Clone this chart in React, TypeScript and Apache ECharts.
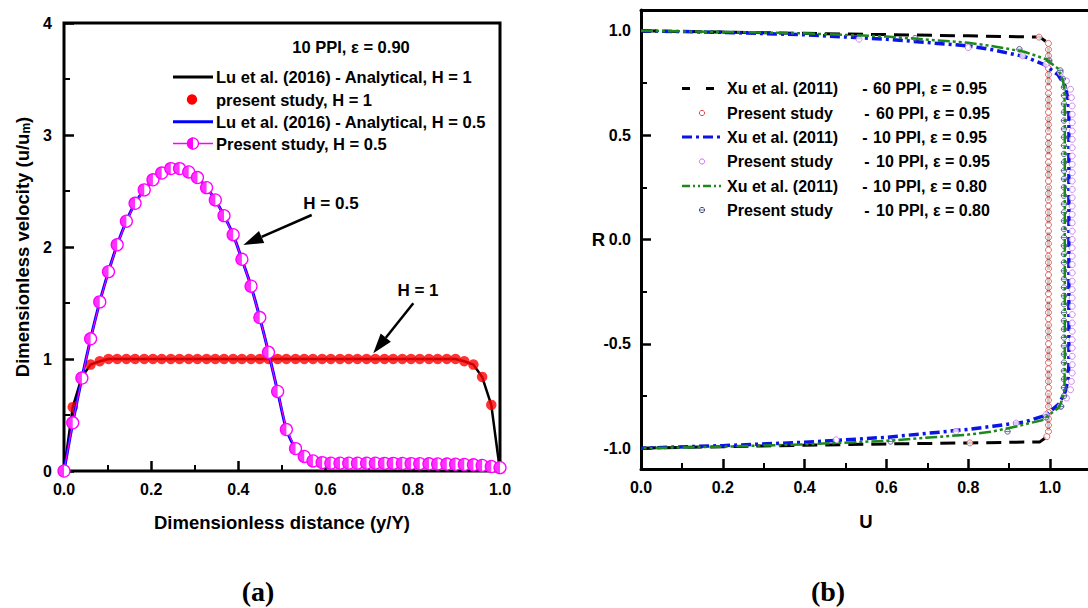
import React, { useEffect, useRef } from "react";
import * as echarts from "echarts";

const FONT = "'Liberation Sans', Arial, Helvetica, sans-serif";
const SERIF = "'Liberation Serif', 'Times New Roman', serif";

// ---------------- Panel (a) ----------------
const distanceA = [0, 0.020, 0.041, 0.061, 0.082, 0.102, 0.122, 0.143, 0.163, 0.184, 0.204, 0.224, 0.245, 0.265, 0.286, 0.306, 0.327, 0.347, 0.367, 0.388, 0.408, 0.429, 0.449, 0.469, 0.490, 0.510, 0.531, 0.551, 0.571, 0.592, 0.612, 0.633, 0.653, 0.673, 0.694, 0.714, 0.735, 0.755, 0.776, 0.796, 0.816, 0.837, 0.857, 0.878, 0.898, 0.918, 0.939, 0.959, 0.980, 1.000];

const analyticalH1 = [0, 0.57, 0.84, 0.95, 0.98,
  1.0, 1.0, 1.0, 1.0, 1.0, 1.0, 1.0, 1.0, 1.0, 1.0,
  1.0, 1.0, 1.0, 1.0, 1.0, 1.0, 1.0, 1.0, 1.0, 1.0,
  1.0, 1.0, 1.0, 1.0, 1.0, 1.0, 1.0, 1.0, 1.0, 1.0,
  1.0, 1.0, 1.0, 1.0, 1.0, 1.0, 1.0, 1.0, 1.0, 1.0,
  0.98, 0.95, 0.84, 0.59, 0];

// present study H = 1 sits on distanceA[1..48]
const presentH1 = [0.57, 0.84, 0.95, 0.98,
  1.0, 1.0, 1.0, 1.0, 1.0, 1.0, 1.0, 1.0, 1.0, 1.0,
  1.0, 1.0, 1.0, 1.0, 1.0, 1.0, 1.0, 1.0, 1.0, 1.0,
  1.0, 1.0, 1.0, 1.0, 1.0, 1.0, 1.0, 1.0, 1.0, 1.0,
  1.0, 1.0, 1.0, 1.0, 1.0, 1.0, 1.0, 1.0, 1.0, 1.0,
  0.98, 0.95, 0.84, 0.59];

const analyticalH05 = [0.00, 0.43, 0.83, 1.18, 1.51, 1.78, 2.02, 2.23, 2.39, 2.51, 2.60, 2.66, 2.70, 2.70, 2.67, 2.62, 2.53, 2.42, 2.28, 2.11, 1.89, 1.65, 1.37, 1.06, 0.71, 0.37, 0.20, 0.13, 0.09, 0.075, 0.07, 0.07, 0.07, 0.07, 0.07, 0.07, 0.068, 0.068, 0.067, 0.066, 0.065, 0.064, 0.063, 0.062, 0.06, 0.058, 0.055, 0.05, 0.04, 0.03];

const presentH05 = [0.00, 0.43, 0.83, 1.18, 1.51, 1.78, 2.02, 2.23, 2.39, 2.51, 2.60, 2.66, 2.70, 2.70, 2.67, 2.62, 2.53, 2.42, 2.28, 2.11, 1.89, 1.65, 1.37, 1.06, 0.71, 0.37, 0.20, 0.13, 0.09, 0.075, 0.07, 0.07, 0.07, 0.07, 0.07, 0.07, 0.068, 0.068, 0.067, 0.066, 0.065, 0.064, 0.063, 0.062, 0.06, 0.058, 0.055, 0.05, 0.04, 0.03];

// ---------------- Panel (b) ----------------  [U, R]
const xu60 = [[0, 1.0], [0.2, 0.994], [0.4, 0.988], [0.6, 0.982], [0.8, 0.976], [0.975, 0.970], [0.996, 0.940], [0.996, -0.940], [0.975, -0.970], [0.8, -0.975], [0.6, -0.98], [0.4, -0.986], [0.2, -0.993], [0, -1.0]];

const xu10e95 = [[0, 1.0], [0.2, 0.993], [0.4, 0.981], [0.6, 0.96], [0.8, 0.928], [0.86, 0.909], [0.937, 0.877], [0.986, 0.838], [1.019, 0.79], [1.037, 0.735], [1.044, 0.67], [1.046, 0.6], [1.046, -0.6], [1.044, -0.67], [1.037, -0.73], [1.022, -0.787], [0.99, -0.842], [0.937, -0.875], [0.86, -0.895], [0.8, -0.91], [0.6, -0.948], [0.4, -0.972], [0.2, -0.988], [0, -1.0]];

const xu10e80 = [[0, 1.0], [0.2, 0.995], [0.4, 0.988], [0.6, 0.973], [0.8, 0.943], [0.855, 0.928], [0.937, 0.9], [0.99, 0.864], [1.019, 0.82], [1.031, 0.765], [1.035, 0.72], [1.036, 0.6], [1.036, -0.6], [1.035, -0.72], [1.031, -0.76], [1.022, -0.805], [0.98, -0.866], [0.92, -0.895], [0.855, -0.922], [0.8, -0.935], [0.6, -0.965], [0.4, -0.982], [0.2, -0.993], [0, -1.0]];

const present60R = [0.97, 0.94, 0.91, 0.88, 0.85, 0.82, 0.79, 0.76, 0.73, 0.70, 0.67, 0.64, 0.61, 0.58, 0.55, 0.52, 0.49, 0.46, 0.43, 0.40, 0.37, 0.34, 0.31, 0.28, 0.25, 0.22, 0.19, 0.16, 0.13, 0.10, 0.07, 0.04, 0.01, -0.02, -0.05, -0.08, -0.11, -0.14, -0.17, -0.20, -0.23, -0.26, -0.29, -0.32, -0.35, -0.38, -0.41, -0.44, -0.47, -0.50, -0.53, -0.56, -0.59, -0.62, -0.65, -0.68, -0.71, -0.74, -0.77, -0.80, -0.83, -0.86, -0.89, -0.92, -0.945, -0.975];
const present60U = [0.973,
  0.996, 0.996, 0.996, 0.996, 0.996, 0.996, 0.996, 0.996, 0.996, 0.996,
  0.996, 0.996, 0.996, 0.996, 0.996, 0.996, 0.996, 0.996, 0.996, 0.996,
  0.996, 0.996, 0.996, 0.996, 0.996, 0.996, 0.996, 0.996, 0.996, 0.996,
  0.996, 0.996, 0.996, 0.996, 0.996, 0.996, 0.996, 0.996, 0.996, 0.996,
  0.996, 0.996, 0.996, 0.996, 0.996, 0.996, 0.996, 0.996, 0.996, 0.996,
  0.996, 0.996, 0.996, 0.996, 0.996, 0.996, 0.996, 0.996, 0.996, 0.996,
  0.996, 0.996, 0.996,
  0.992, 0.804];

const present10R = [0.96, 0.92, 0.88, 0.84, 0.80, 0.76, 0.72, 0.68, 0.64, 0.60, 0.56, 0.52, 0.48, 0.44, 0.40, 0.36, 0.32, 0.28, 0.24, 0.20, 0.16, 0.12, 0.08, 0.04, 0.00, -0.04, -0.08, -0.12, -0.16, -0.20, -0.24, -0.28, -0.32, -0.36, -0.40, -0.44, -0.48, -0.52, -0.56, -0.60, -0.64, -0.68, -0.72, -0.76, -0.80, -0.84, -0.88, -0.92, -0.96];
const present10U = [0.533, 0.80, 0.933, 0.99, 1.025, 1.04, 1.05, 1.052,
  1.054, 1.054, 1.054, 1.054, 1.054, 1.054, 1.054, 1.054, 1.054, 1.054, 1.054,
  1.054, 1.054, 1.054, 1.054, 1.054, 1.054, 1.054, 1.054, 1.054, 1.054, 1.054,
  1.054, 1.054, 1.054, 1.054, 1.054, 1.054, 1.054, 1.054, 1.054, 1.054, 1.054,
  1.052, 1.05, 1.04, 1.025, 0.99, 0.917, 0.77, 0.477];

const present80R = [0.965, 0.912, 0.858, 0.81, 0.77, 0.73, 0.69, 0.65, 0.61, 0.57, 0.53, 0.49, 0.45, 0.41, 0.37, 0.33, 0.29, 0.25, 0.21, 0.17, 0.13, 0.09, 0.05, 0.01, -0.03, -0.07, -0.11, -0.15, -0.19, -0.23, -0.27, -0.31, -0.35, -0.39, -0.43, -0.47, -0.51, -0.55, -0.59, -0.63, -0.67, -0.71, -0.75, -0.80, -0.852, -0.92, -0.968];
const present80U = [0.67, 0.925, 0.998, 1.025, 1.031,
  1.034, 1.034, 1.034, 1.034, 1.034, 1.034, 1.034, 1.034, 1.034, 1.034,
  1.034, 1.034, 1.034, 1.034, 1.034, 1.034, 1.034, 1.034, 1.034, 1.034,
  1.034, 1.034, 1.034, 1.034, 1.034, 1.034, 1.034, 1.034, 1.034, 1.034,
  1.034, 1.034, 1.034, 1.034, 1.034, 1.034, 1.034, 1.034,
  1.027, 0.99, 0.896, 0.61];

const xMajorB = [0, 0.2, 0.4, 0.6, 0.8, 1.0];
const xMinorB = [0.1, 0.3, 0.5, 0.7, 0.9];
const yMajorB = [-1.0, -0.5, 0, 0.5, 1.0];
const yMinorB = [-0.75, -0.25, 0.25, 0.75];

const legendA = [
  "Lu et al. (2016) - Analytical, H = 1",
  "present study, H = 1",
  "Lu et al. (2016) - Analytical, H = 0.5",
  "Present study, H = 0.5",
];
const legendBName = ["Xu et al. (2011)", "Present study", "Xu et al. (2011)", "Present study", "Xu et al. (2011)", "Present study"];
const legendBSpec = ["60 PPI, ε = 0.95", "60 PPI, ε = 0.95", "10 PPI, ε = 0.95", "10 PPI, ε = 0.95", "10 PPI, ε = 0.80", "10 PPI, ε = 0.80"];

const MAGENTA = "#ff00ff";
const RED60 = "#d84a4a";
const VIOLET = "#c86ef0";
const NAVY = "#3c4a82";
const GREEN = "#1b8a1b";
const BLUE = "#0a14e6";

const zip = (xs: number[], ys: number[]) => xs.map((x, i) => [x, ys[i]]);
const zipUR = (us: number[], rs: number[]) => us.map((u, i) => [u, rs[i]]);

function txt(x: number, y: number, text: string, size = 16, align = "left", family = FONT) {
  return {
    type: "text",
    x,
    y,
    silent: true,
    style: {
      text,
      fill: "#000",
      fontSize: size,
      fontWeight: "bold",
      fontFamily: family,
      align,
      verticalAlign: "middle",
      textAlign: align,
      textVerticalAlign: "middle",
    },
  };
}
function ln(x1: number, y1: number, x2: number, y2: number, stroke: string, lineWidth: number, lineDash?: number[]) {
  return { type: "line", silent: true, shape: { x1, y1, x2, y2 }, style: { stroke, lineWidth, lineDash } };
}
function arrow(tx: number, ty: number, hx: number, hy: number) {
  const dx = hx - tx, dy = hy - ty;
  const len = Math.sqrt(dx * dx + dy * dy);
  const ux = dx / len, uy = dy / len;
  const bx = hx - ux * 20, by = hy - uy * 20;
  const px = -uy, py = ux;
  return [
    ln(tx, ty, bx, by, "#000", 2.5),
    {
      type: "polygon",
      silent: true,
      shape: { points: [[hx, hy], [bx + px * 6.5, by + py * 6.5], [bx - px * 6.5, by - py * 6.5]] },
      style: { fill: "#000" },
    },
  ];
}

const labelStyle = { color: "#000", fontFamily: FONT, fontWeight: "bold", fontSize: 16 };
const nameStyle = { color: "#000", fontFamily: FONT, fontWeight: "bold", fontSize: 18.5 };
const noLine = { show: false, onZero: false };
const blackLine = { show: true, onZero: false, lineStyle: { color: "#000", width: 3 } };

function buildOption() {
  const rowsA = [77, 99.5, 121.7, 143.5];
  const rowsB = [88.5, 113, 137, 161.5, 186, 210];

  const graphics: any[] = [
    // panel a title + legend
    txt(351, 47, "10 PPI, ε = 0.90", 16.5, "center"),
    ln(173, rowsA[0], 213, rowsA[0], "#000", 3),
    { type: "circle", silent: true, shape: { cx: 192, cy: rowsA[1], r: 5.2 }, style: { fill: "#ff0000" } },
    ln(173, rowsA[2], 213, rowsA[2], "#0000ff", 3),
    ln(173, rowsA[3], 213, rowsA[3], MAGENTA, 1.5),
    { type: "circle", silent: true, shape: { cx: 193, cy: rowsA[3], r: 5.5 }, style: { fill: "#fff", stroke: MAGENTA, lineWidth: 1.3 } },
    { type: "sector", silent: true, shape: { cx: 193, cy: rowsA[3], r: 6, r0: 0, startAngle: Math.PI / 2, endAngle: (3 * Math.PI) / 2, clockwise: true }, style: { fill: MAGENTA } },
    ...legendA.map((t, i) => txt(216, rowsA[i], t, 16.5)),
    // annotations
    txt(331, 203, "H = 0.5", 17, "center"),
    ...arrow(311.7, 215, 243.3, 245),
    txt(418, 290, "H = 1", 17, "center"),
    ...arrow(413.3, 303.3, 373.3, 353.3),
    // panel b legend
    ln(682, rowsB[0], 716, rowsB[0], "#000", 3, [8, 16]),
    { type: "circle", silent: true, shape: { cx: 702, cy: rowsB[1], r: 2.6 }, style: { fill: "#fff", stroke: RED60, lineWidth: 1 } },
    ln(682, rowsB[2], 724, rowsB[2], BLUE, 3, [10, 4, 3, 4]),
    { type: "circle", silent: true, shape: { cx: 702, cy: rowsB[3], r: 2.6 }, style: { fill: "#fff", stroke: VIOLET, lineWidth: 1 } },
    ln(682, rowsB[4], 724, rowsB[4], GREEN, 2.5, [8, 3, 2, 3, 2, 3]),
    { type: "circle", silent: true, shape: { cx: 702, cy: rowsB[5], r: 2.6 }, style: { fill: "#fff", stroke: NAVY, lineWidth: 1 } },
    ln(699.4, rowsB[5], 704.6, rowsB[5], NAVY, 0.8),
    ...legendBName.map((t, i) => txt(727, rowsB[i], t, 16)),
    ...legendBName.map((_, i) => txt(i % 2 === 0 ? 865 : 867, rowsB[i], "-", 16, "center")),
    ...legendBSpec.map((t, i) => txt(i % 2 === 0 ? 873 : 876, rowsB[i], t, 16)),
    // sub-figure labels
    txt(258, 591, "(a)", 28, "center", SERIF),
    txt(828, 591, "(b)", 28, "center", SERIF),
  ];

  return {
    animation: false,
    backgroundColor: "#fff",
    grid: [
      { left: 64, top: 23, width: 436, height: 448, show: true, borderColor: "#000", borderWidth: 3, backgroundColor: "transparent", containLabel: false, outerBoundsMode: "none" },
      { left: 641, top: 10, width: 450, height: 459, show: false, containLabel: false, outerBoundsMode: "none" },
    ],
    xAxis: [
      {
        gridIndex: 0, type: "value", min: 0, max: 1, interval: 0.2,
        splitLine: { show: false }, axisLine: noLine,
        axisTick: { show: true, inside: true, length: 10, lineStyle: { color: "#000", width: 2.5 } },
        minorTick: { show: true, splitNumber: 2, length: 6, lineStyle: { color: "#000", width: 2 } },
        axisLabel: { ...labelStyle, margin: 10, formatter: (v: number) => v.toFixed(1) },
        name: "Dimensionless distance (y/Y)", nameLocation: "middle", nameGap: 42, nameMoveOverlap: false,
        nameTextStyle: nameStyle,
      },
      {
        gridIndex: 1, type: "value", min: 0, max: 1.1, position: "bottom",
        splitLine: { show: false },
        axisLine: blackLine,
        axisTick: { show: true, inside: true, length: 10, customValues: xMajorB, lineStyle: { color: "#000", width: 2.5 } },
        axisLabel: { ...labelStyle, margin: 10, customValues: xMajorB, formatter: (v: number) => v.toFixed(1) },
        name: "U", nameLocation: "middle", nameGap: 43, nameMoveOverlap: false, nameTextStyle: nameStyle,
      },
      {
        gridIndex: 1, type: "value", min: 0, max: 1.1, position: "bottom",
        splitLine: { show: false }, axisLine: noLine,
        axisTick: { show: true, inside: true, length: 6, customValues: xMinorB, lineStyle: { color: "#000", width: 2 } },
        axisLabel: { show: false },
      },
      {
        gridIndex: 1, type: "value", min: 0, max: 1.1, position: "top",
        splitLine: { show: false },
        axisLine: blackLine,
        axisTick: { show: false },
        axisLabel: { show: false },
      },
    ],
    yAxis: [
      {
        gridIndex: 0, type: "value", min: 0, max: 4, interval: 1,
        splitLine: { show: false }, axisLine: noLine,
        axisTick: { show: true, inside: true, length: 10, lineStyle: { color: "#000", width: 2.5 } },
        minorTick: { show: true, splitNumber: 2, length: 6, lineStyle: { color: "#000", width: 2 } },
        axisLabel: { ...labelStyle, margin: 12, formatter: (v: number) => String(v) },
        name: "Dimensionless velocity (u/u{sub|m})", nameLocation: "middle", nameGap: 32, nameMoveOverlap: false,
        nameTextStyle: {
          ...nameStyle,
          rich: { sub: { fontSize: 12, fontWeight: "bold", fontFamily: FONT, color: "#000", verticalAlign: "bottom" } },
        },
      },
      {
        gridIndex: 1, type: "value", min: -1.1, max: 1.1, position: "left",
        splitLine: { show: false },
        axisLine: blackLine,
        axisTick: { show: true, inside: true, length: 10, customValues: yMajorB, lineStyle: { color: "#000", width: 2.5 } },
        axisLabel: { ...labelStyle, margin: 10, customValues: yMajorB, formatter: (v: number) => v.toFixed(1) },
        name: "R", nameLocation: "middle", nameGap: 36, nameRotate: 0, nameMoveOverlap: false, nameTextStyle: nameStyle,
      },
      {
        gridIndex: 1, type: "value", min: -1.1, max: 1.1, position: "left",
        splitLine: { show: false }, axisLine: noLine,
        axisTick: { show: true, inside: true, length: 6, customValues: yMinorB, lineStyle: { color: "#000", width: 2 } },
        axisLabel: { show: false },
      },
    ],
    series: [
      // ----- panel a -----
      {
        type: "line", xAxisIndex: 0, yAxisIndex: 0, data: zip(distanceA, analyticalH1),
        symbol: "none", lineStyle: { color: "#000", width: 2.5 }, z: 2,
      },
      {
        type: "scatter", xAxisIndex: 0, yAxisIndex: 0, data: zip(distanceA.slice(1, 49), presentH1),
        symbol: "circle", symbolSize: 10.5, itemStyle: { color: "#ff0000" }, z: 3,
      },
      {
        type: "line", xAxisIndex: 0, yAxisIndex: 0, data: zip(distanceA, analyticalH05),
        symbol: "none", smooth: 0.2, lineStyle: { color: "#0000ff", width: 3 }, z: 4,
      },
      {
        type: "line", xAxisIndex: 0, yAxisIndex: 0, data: zip(distanceA, presentH05),
        symbol: "circle", symbolSize: 12, showSymbol: true,
        itemStyle: { color: "#fff", borderColor: MAGENTA, borderWidth: 1.3 },
        lineStyle: { color: MAGENTA, width: 1.2 }, z: 5,
      },
      {
        type: "scatter", xAxisIndex: 0, yAxisIndex: 0, data: zip(distanceA, presentH05),
        symbol: "path://M10 0 A10 10 0 0 0 10 20 Z", symbolKeepAspect: true, symbolSize: 12, symbolOffset: [-3, 0],
        itemStyle: { color: MAGENTA }, z: 6,
      },
      // ----- panel b -----
      {
        type: "line", xAxisIndex: 1, yAxisIndex: 1, data: xu60,
        symbol: "none", lineStyle: { color: "#000", width: 3, type: [15, 8] }, z: 2,
      },
      {
        type: "scatter", xAxisIndex: 1, yAxisIndex: 1, data: zipUR(present60U, present60R),
        symbol: "circle", symbolSize: 6, itemStyle: { color: "#fff", borderColor: RED60, borderWidth: 1 }, z: 3,
      },
      {
        type: "line", xAxisIndex: 1, yAxisIndex: 1, data: xu10e95,
        symbol: "none", lineStyle: { color: BLUE, width: 3.5, type: [10, 4, 3, 4] }, z: 4,
      },
      {
        type: "scatter", xAxisIndex: 1, yAxisIndex: 1, data: zipUR(present10U, present10R),
        symbol: "circle", symbolSize: 6, itemStyle: { color: "#fff", borderColor: VIOLET, borderWidth: 1 }, z: 5,
      },
      {
        type: "scatter", xAxisIndex: 1, yAxisIndex: 1, data: zipUR(present80U, present80R),
        symbol: "circle", symbolSize: 5.5, itemStyle: { color: "rgba(200,200,225,0.35)", borderColor: NAVY, borderWidth: 1 }, z: 6,
      },
      {
        type: "scatter", xAxisIndex: 1, yAxisIndex: 1, data: zipUR(present80U, present80R),
        symbol: "path://M0 0 L20 0 L20 3 L0 3 Z", symbolKeepAspect: true, symbolSize: 5.5,
        itemStyle: { color: NAVY }, z: 7,
      },
      {
        type: "line", xAxisIndex: 1, yAxisIndex: 1, data: xu10e80,
        symbol: "none", lineStyle: { color: GREEN, width: 2.5, type: [12, 3, 3, 3, 3, 3] }, z: 8,
      },
    ],
    graphic: { elements: graphics },
  };
}

export default function App() {
  const ref = useRef<HTMLDivElement>(null);
  useEffect(() => {
    document.body.style.margin = "0";
    const chart = echarts.init(ref.current as HTMLDivElement, null, { renderer: "svg" });
    chart.setOption(buildOption() as any);
    return () => chart.dispose();
  }, []);
  return (
    <div
      ref={ref}
      style={{ position: "absolute", left: 0, top: 0, width: 1088, height: 608, background: "#fff" }}
    />
  );
}
